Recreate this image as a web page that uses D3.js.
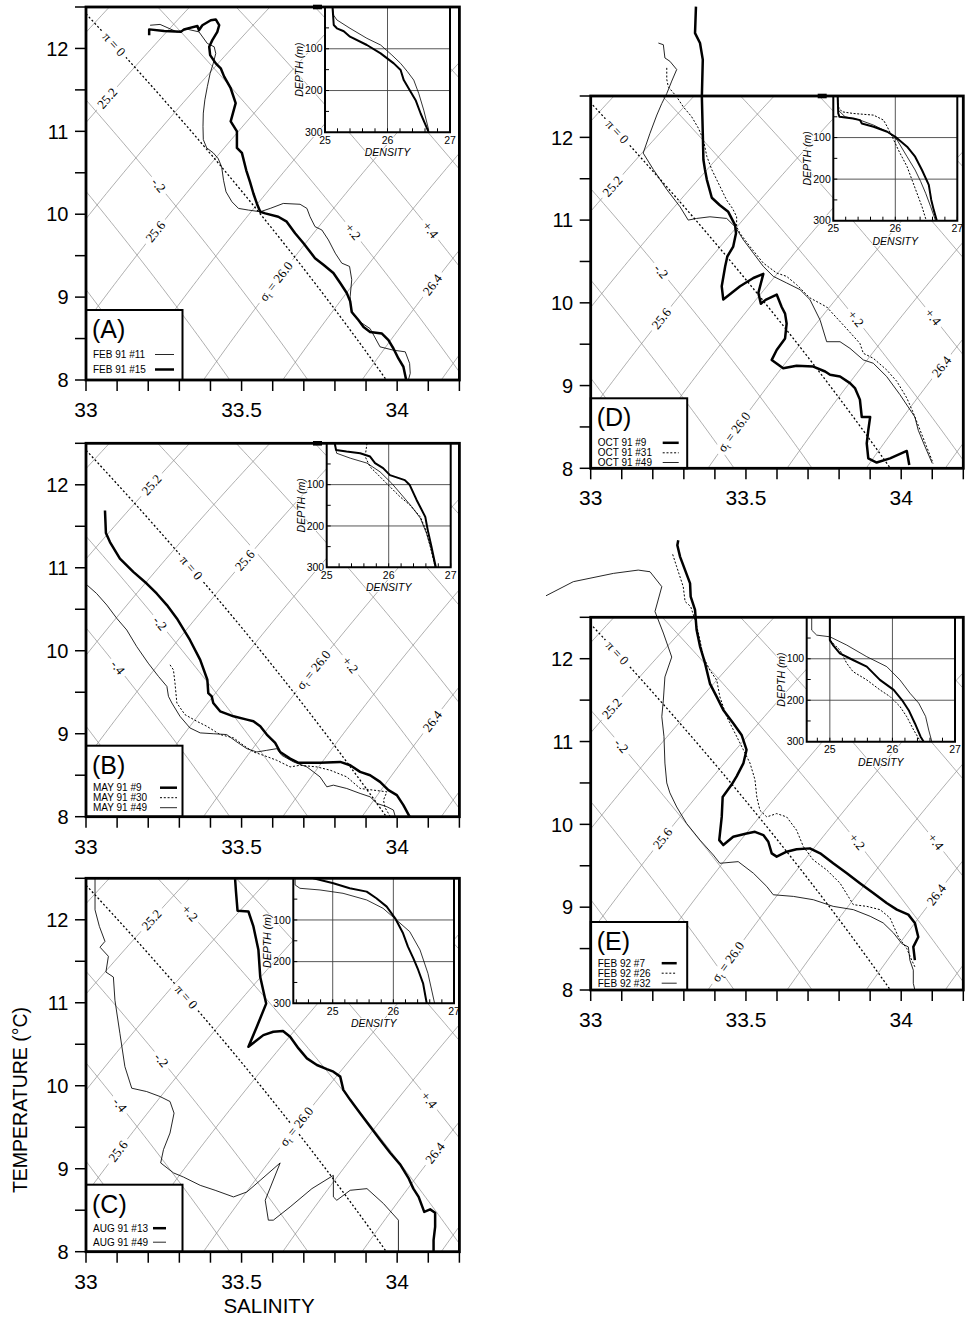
<!DOCTYPE html>
<html><head><meta charset="utf-8">
<script src="https://cdn.jsdelivr.net/npm/d3@7/dist/d3.min.js"></script>
<style>
body{margin:0;background:#fff}
svg{display:block}
text{font-family:"Liberation Sans",Arial,Helvetica,sans-serif}
</style></head><body>
<svg id="chart" width="968" height="1320"></svg>
<script>
// ---------------- DATA ----------------
const salinityDomain = [33, 34.2];
const temperatureDomain = [8, 12.5];
const salinityTickLabels = [33, 33.5, 34];
const temperatureTickLabels = [8, 9, 10, 11, 12];
const depthDomain = [0, 300];
const densityTickLabels = [25, 26, 27];
const depthTickLabels = [100, 200, 300];
const sigmaLevels = [24.8, 25.0, 25.2, 25.4, 25.6, 25.8, 26.0, 26.2, 26.4, 26.6, 26.8];
const spiceLevels = [-1.0, -0.8, -0.6, -0.4, -0.2, 0, 0.2, 0.4, 0.6, 0.8, 1.0];

// T-S profiles [salinity, temperature]
const feb91_11_ts = [[33.206,12.28],[33.238,12.29],[33.292,12.20],[33.328,12.23],[33.363,12.20],[33.390,12.06],[33.412,12.02],[33.417,11.94],[33.409,11.82],[33.399,11.70],[33.390,11.54],[33.382,11.38],[33.377,11.22],[33.376,11.06],[33.377,10.90],[33.388,10.80],[33.409,10.74],[33.425,10.67],[33.436,10.57],[33.442,10.41],[33.450,10.27],[33.469,10.15],[33.490,10.07],[33.522,10.05],[33.560,10.03],[33.592,10.07],[33.634,10.13],[33.688,10.12],[33.710,10.07],[33.720,9.97],[33.736,9.85],[33.758,9.81],[33.779,9.69],[33.801,9.53],[33.822,9.41],[33.847,9.37],[33.854,9.21],[33.849,9.01],[33.851,8.87],[33.860,8.78],[33.881,8.70],[33.913,8.62],[33.945,8.40],[33.988,8.36],[34.026,8.34],[34.040,8.20],[34.042,8.08],[34.036,8.00]];
const feb91_15_ts = [[33.203,12.16],[33.203,12.23],[33.251,12.21],[33.305,12.20],[33.315,12.23],[33.358,12.27],[33.363,12.22],[33.374,12.28],[33.401,12.34],[33.417,12.35],[33.428,12.28],[33.422,12.20],[33.406,12.10],[33.396,12.02],[33.399,11.92],[33.417,11.82],[33.433,11.76],[33.444,11.66],[33.465,11.52],[33.481,11.34],[33.465,11.12],[33.485,11.00],[33.485,10.80],[33.501,10.74],[33.515,10.53],[33.527,10.39],[33.538,10.25],[33.549,10.13],[33.560,10.03],[33.576,10.01],[33.618,9.97],[33.645,9.91],[33.672,9.77],[33.699,9.65],[33.736,9.47],[33.763,9.39],[33.795,9.29],[33.817,9.17],[33.838,9.05],[33.849,8.95],[33.854,8.82],[33.876,8.72],[33.892,8.64],[33.913,8.58],[33.951,8.56],[33.972,8.48],[33.988,8.38],[34.004,8.26],[34.020,8.16],[34.029,8.00]];
const may91_9_ts = [[33.061,11.69],[33.064,11.42],[33.077,11.31],[33.109,11.11],[33.152,10.95],[33.195,10.81],[33.227,10.69],[33.260,10.55],[33.292,10.39],[33.334,10.13],[33.367,9.89],[33.390,9.65],[33.393,9.49],[33.404,9.45],[33.409,9.37],[33.431,9.27],[33.474,9.21],[33.517,9.17],[33.538,9.15],[33.560,9.09],[33.581,8.99],[33.608,8.89],[33.624,8.78],[33.656,8.70],[33.683,8.65],[33.752,8.65],[33.817,8.66],[33.849,8.62],[33.881,8.54],[33.913,8.50],[33.945,8.42],[33.972,8.32],[33.999,8.26],[34.020,8.14],[34.040,8.00]];
const may91_30_ts = [[33.270,9.83],[33.281,9.77],[33.286,9.61],[33.292,9.37],[33.318,9.23],[33.356,9.15],[33.388,9.09],[33.431,8.99],[33.474,8.95],[33.506,8.86],[33.538,8.78],[33.570,8.74],[33.613,8.68],[33.656,8.60],[33.688,8.62],[33.742,8.60],[33.785,8.56],[33.838,8.48],[33.881,8.34],[33.924,8.32],[33.967,8.30],[33.956,8.20],[33.961,8.11],[33.978,8.00]];
const may91_49_ts = [[33.004,10.79],[33.034,10.69],[33.067,10.55],[33.099,10.39],[33.131,10.25],[33.163,10.05],[33.200,9.85],[33.233,9.69],[33.260,9.57],[33.265,9.45],[33.276,9.37],[33.302,9.21],[33.334,9.07],[33.367,9.01],[33.409,9.00],[33.452,8.99],[33.485,8.90],[33.517,8.82],[33.549,8.78],[33.581,8.80],[33.613,8.82],[33.629,8.74],[33.667,8.66],[33.710,8.60],[33.752,8.48],[33.774,8.36],[33.795,8.38],[33.838,8.34],[33.881,8.28],[33.913,8.24],[33.935,8.16],[33.967,8.12],[33.988,8.08],[33.994,8.00]];
const aug91_13_ts = [[33.479,12.50],[33.482,12.34],[33.487,12.11],[33.522,12.10],[33.538,11.92],[33.554,11.64],[33.560,11.31],[33.579,10.99],[33.549,10.71],[33.522,10.47],[33.570,10.61],[33.602,10.65],[33.633,10.66],[33.656,10.59],[33.683,10.45],[33.710,10.33],[33.742,10.25],[33.774,10.20],[33.795,10.17],[33.817,10.11],[33.827,9.95],[33.849,9.83],[33.881,9.67],[33.913,9.51],[33.945,9.35],[33.978,9.19],[34.010,9.05],[34.036,8.89],[34.052,8.76],[34.069,8.66],[34.087,8.48],[34.106,8.51],[34.122,8.47],[34.122,8.30],[34.117,8.14],[34.117,8.00]];
const aug91_49_ts = [[33.029,12.50],[33.029,12.12],[33.043,11.92],[33.061,11.74],[33.045,11.67],[33.072,11.56],[33.064,11.37],[33.088,11.31],[33.093,11.03],[33.109,10.63],[33.125,10.23],[33.147,9.97],[33.195,9.93],[33.238,9.87],[33.270,9.81],[33.283,9.67],[33.270,9.43],[33.249,9.23],[33.240,9.07],[33.281,8.95],[33.313,8.90],[33.367,8.80],[33.415,8.74],[33.474,8.66],[33.517,8.72],[33.560,8.86],[33.624,9.07],[33.576,8.62],[33.586,8.38],[33.602,8.38],[33.656,8.54],[33.726,8.76],[33.795,8.92],[33.795,8.66],[33.806,8.62],[33.849,8.74],[33.903,8.76],[33.956,8.58],[34.004,8.38],[34.004,8.00]];
const oct91_9_ts = [[33.339,13.58],[33.336,13.26],[33.352,13.14],[33.361,12.94],[33.358,12.49],[33.361,12.05],[33.363,11.73],[33.368,11.61],[33.374,11.49],[33.390,11.27],[33.416,11.18],[33.443,11.10],[33.465,10.94],[33.468,10.84],[33.459,10.68],[33.440,10.56],[33.433,10.44],[33.422,10.20],[33.427,10.04],[33.481,10.20],[33.524,10.30],[33.556,10.35],[33.540,10.12],[33.548,9.99],[33.565,10.04],[33.599,10.10],[33.615,9.95],[33.626,9.87],[33.631,9.75],[33.626,9.57],[33.599,9.43],[33.583,9.31],[33.620,9.21],[33.663,9.24],[33.717,9.23],[33.755,9.17],[33.771,9.13],[33.803,9.11],[33.835,9.03],[33.851,8.97],[33.867,8.83],[33.873,8.62],[33.900,8.62],[33.894,8.46],[33.889,8.30],[33.894,8.12],[33.921,8.07],[33.964,8.12],[34.018,8.21],[34.026,8.04]];
const oct91_31_ts = [[33.245,12.84],[33.245,12.70],[33.250,12.61],[33.277,12.49],[33.298,12.37],[33.325,12.25],[33.347,12.11],[33.363,11.97],[33.374,11.77],[33.390,11.61],[33.416,11.41],[33.438,11.24],[33.457,11.14],[33.470,11.04],[33.470,10.92],[33.481,10.84],[33.513,10.68],[33.556,10.48],[33.599,10.36],[33.631,10.32],[33.663,10.22],[33.706,10.06],[33.760,9.95],[33.814,9.73],[33.867,9.51],[33.878,9.39],[33.910,9.33],[33.953,9.19],[33.986,9.05],[34.018,8.85],[34.039,8.67],[34.061,8.46],[34.082,8.26],[34.103,8.06]];
const oct91_49_ts = [[33.218,13.14],[33.234,13.12],[33.239,12.96],[33.255,12.92],[33.277,12.82],[33.261,12.68],[33.245,12.53],[33.229,12.41],[33.213,12.27],[33.191,12.05],[33.169,11.81],[33.202,11.61],[33.245,11.37],[33.288,11.16],[33.314,11.00],[33.341,11.02],[33.384,11.04],[33.438,11.02],[33.465,10.92],[33.492,10.76],[33.524,10.60],[33.556,10.44],[33.588,10.32],[33.631,10.24],[33.674,10.16],[33.706,10.04],[33.739,9.79],[33.760,9.53],[33.803,9.53],[33.835,9.45],[33.878,9.31],[33.910,9.27],[33.953,9.11],[33.996,8.89],[34.044,8.62],[34.055,8.46],[34.077,8.26],[34.100,8.06]];
const feb92_7_ts = [[33.282,13.43],[33.279,13.37],[33.288,13.23],[33.304,13.07],[33.320,12.91],[33.322,12.75],[33.336,12.59],[33.341,12.35],[33.352,12.15],[33.368,11.95],[33.384,11.70],[33.406,11.54],[33.427,11.38],[33.459,11.22],[33.486,11.08],[33.502,10.90],[33.492,10.74],[33.470,10.58],[33.454,10.48],[33.425,10.33],[33.422,10.09],[33.414,9.81],[33.427,9.75],[33.459,9.85],[33.502,9.89],[33.529,9.91],[33.556,9.87],[33.572,9.79],[33.583,9.65],[33.599,9.61],[33.631,9.67],[33.663,9.70],[33.706,9.71],[33.739,9.65],[33.781,9.53],[33.825,9.41],[33.867,9.29],[33.910,9.17],[33.953,9.05],[33.986,8.97],[34.023,8.91],[34.044,8.81],[34.055,8.64],[34.039,8.52],[34.044,8.36]];
const feb92_26_ts = [[33.264,13.26],[33.277,13.11],[33.298,12.87],[33.304,12.69],[33.322,12.63],[33.336,12.47],[33.347,12.31],[33.363,12.02],[33.384,11.86],[33.406,11.74],[33.416,11.54],[33.438,11.30],[33.481,10.98],[33.513,10.74],[33.529,10.54],[33.535,10.33],[33.545,10.17],[33.567,10.09],[33.599,10.13],[33.631,10.09],[33.663,9.93],[33.685,9.73],[33.717,9.57],[33.760,9.45],[33.803,9.29],[33.846,9.03],[33.889,9.01],[33.932,8.97],[33.964,8.87],[33.991,8.64],[34.018,8.50],[34.034,8.36],[34.044,8.28]];
const feb92_32_ts = [[32.856,12.76],[32.944,12.93],[33.073,13.03],[33.153,13.07],[33.191,13.05],[33.229,12.87],[33.207,12.57],[33.234,12.31],[33.261,12.02],[33.239,11.78],[33.234,11.50],[33.229,11.30],[33.236,11.06],[33.239,10.74],[33.245,10.50],[33.255,10.38],[33.277,10.21],[33.309,10.01],[33.352,9.81],[33.395,9.63],[33.416,9.53],[33.475,9.55],[33.524,9.41],[33.567,9.25],[33.588,9.15],[33.653,9.13],[33.717,9.09],[33.781,9.01],[33.846,8.97],[33.900,8.89],[33.942,8.81],[33.975,8.69],[34.002,8.56],[34.023,8.52],[34.028,8.36],[34.039,8.24],[34.039,8.08],[34.044,8.00]];

// density-depth profiles [density, depth]
const feb91_11_rho = [[25.12,0],[25.14,20],[25.19,31],[25.40,51],[25.67,75],[25.89,91],[26.07,115],[26.21,135],[26.32,155],[26.42,175],[26.50,207],[26.58,247],[26.66,295]];
const feb91_15_rho = [[25.12,0],[25.14,43],[25.19,51],[25.30,58],[25.40,71],[25.67,91],[25.89,111],[26.10,135],[26.21,151],[26.26,175],[26.37,203],[26.45,223],[26.53,255],[26.61,283],[26.66,300]];
const may91_9_rho = [[25.13,0],[25.15,16],[25.32,20],[25.54,24],[25.70,32],[25.78,48],[25.91,60],[26.02,77],[26.26,89],[26.34,101],[26.45,137],[26.59,178],[26.63,210],[26.69,250],[26.76,300]];
const may91_30_rho = [[25.65,0],[25.62,32],[25.70,57],[25.86,81],[26.02,105],[26.18,129],[26.34,149],[26.51,178],[26.60,210],[26.67,250],[26.75,300]];
const may91_49_rho = [[25.13,0],[25.15,16],[25.16,24],[25.38,36],[25.65,48],[25.86,69],[26.05,97],[26.21,125],[26.37,153],[26.51,181],[26.61,218],[26.69,258],[26.75,300]];
const aug91_13_rho = [[24.68,0],[25.01,12],[25.28,24],[25.56,32],[25.72,48],[25.89,68],[26.03,96],[26.16,132],[26.24,164],[26.33,192],[26.41,220],[26.49,252],[26.55,300]];
const aug91_49_rho = [[24.38,0],[24.38,16],[24.46,24],[24.79,28],[25.17,36],[25.56,52],[25.83,72],[26.05,100],[26.27,128],[26.44,172],[26.57,228],[26.68,300]];
const oct91_9_rho = [[25.07,0],[25.08,42],[25.10,50],[25.32,54],[25.43,58],[25.46,66],[25.65,74],[25.87,86],[26.00,98],[26.19,122],[26.32,146],[26.43,178],[26.54,214],[26.58,250],[26.62,274],[26.67,300]];
const oct91_31_rho = [[25.07,0],[25.08,26],[25.14,38],[25.32,42],[25.65,46],[25.81,58],[25.87,74],[25.95,98],[26.05,130],[26.19,170],[26.27,202],[26.35,234],[26.43,266],[26.50,300]];
const oct91_49_rho = [[25.07,0],[25.08,34],[25.19,50],[25.43,58],[25.65,70],[25.87,86],[26.03,106],[26.19,146],[26.32,178],[26.41,206],[26.49,234],[26.57,266],[26.65,300]];
const feb92_7_rho = [[25.00,0],[25.00,55],[25.05,67],[25.16,87],[25.37,103],[25.59,119],[25.80,151],[26.02,175],[26.15,199],[26.26,224],[26.36,256],[26.45,288],[26.50,300]];
const feb92_26_rho = [[25.00,40],[25.00,55],[25.16,79],[25.27,111],[25.37,131],[25.59,151],[25.80,175],[25.96,191],[26.12,215],[26.23,240],[26.34,272],[26.45,300]];
const feb92_32_rho = [[24.71,0],[24.71,31],[24.79,43],[25.00,47],[25.27,67],[25.59,95],[25.91,119],[26.12,151],[26.28,183],[26.42,207],[26.53,239],[26.58,272],[26.63,300]];

// isoline labels: [kind, value, temperature where the label sits]
const labelsA = [['pi',0,12.05],['sigma',25.2,11.40],['pi',-0.2,10.35],['sigma',25.6,9.79],['sigma',26.0,9.19],['pi',0.2,9.79],['pi',0.4,9.81],['sigma',26.4,9.15]];
const labelsB = [['sigma',25.2,12.00],['pi',0,11.00],['sigma',25.6,11.09],['pi',-0.2,10.33],['pi',-0.4,9.80],['sigma',26.0,9.77],['pi',0.2,9.83],['sigma',26.4,9.15]];
const labelsC = [['sigma',25.2,12.00],['pi',0.2,12.08],['pi',0,11.07],['pi',-0.2,10.31],['pi',-0.4,9.77],['sigma',25.6,9.21],['sigma',26.0,9.51],['pi',0.4,9.83],['sigma',26.4,9.19]];
const labelsD = [['pi',0,12.07],['sigma',25.2,11.41],['pi',-0.2,10.38],['sigma',25.6,9.81],['pi',0.2,9.81],['pi',0.4,9.83],['sigma',26.4,9.23],['sigma',26.0,8.44]];
const labelsE = [['pi',0,12.07],['sigma',25.2,11.40],['pi',-0.2,10.95],['sigma',25.6,9.83],['pi',0.2,9.79],['pi',0.4,9.79],['sigma',26.4,9.15],['sigma',26.0,8.34]];

// ---------------- EQUATIONS FOR THE BACKGROUND GRID ----------------
function sigmaT(S, T) {
  const rw = 999.842594 + 6.793952e-2*T - 9.095290e-3*T*T + 1.001685e-4*T**3 - 1.120083e-6*T**4 + 6.536332e-9*T**5;
  const A = 0.824493 - 4.0899e-3*T + 7.6438e-5*T*T - 8.2467e-7*T**3 + 5.3875e-9*T**4;
  const Bc = -5.72466e-3 + 1.0227e-4*T - 1.6546e-6*T*T;
  return rw + A*S + Bc*Math.pow(S,1.5) + 4.8314e-4*S*S - 1000;
}
const SPB = [[0,7.7442e-1,-5.85e-3,-9.84e-4,-2.06e-4],[5.1655e-2,2.034e-3,-2.742e-4,-8.5e-6,1.36e-5],[6.64783e-3,-2.4681e-4,-1.428e-5,3.337e-5,7.894e-6],[-5.4023e-5,7.326e-6,7.0036e-6,-3.0412e-6,-1.0853e-6],[3.949e-7,-3.029e-8,-3.8209e-7,1.0012e-7,4.7133e-8],[-6.36e-10,-1.309e-9,6.048e-9,-1.1409e-9,-6.676e-10]];
function spice(S, T) {
  const s = S - 35; let p = 0;
  for (let i = 0; i < 6; i++) for (let j = 0; j < 5; j++) p += SPB[i][j]*Math.pow(T,i)*Math.pow(s,j);
  return p;
}
function solveS(f, level, T) {
  let lo = 30, hi = 37;
  for (let k = 0; k < 50; k++) { const m = (lo+hi)/2; if (f(m,T) < level) lo = m; else hi = m; }
  return (lo+hi)/2;
}

// ---------------- LAYOUT ----------------
const layout = {
  A:{x:86, y:7, w:373.4, h:373, inset:{dx:239, w:125, h:125.3, dom:[25,27]}, marker:true, legH:70, samp:[69,88], rows:[22,7]},
  B:{x:86, y:443.3, w:373.4, h:373.4, inset:{dx:240.7, w:124, h:124, dom:[25,27]}, marker:true, legH:71, samp:[74,91], rows:[25.5,15.5,5.5]},
  C:{x:86, y:878.3, w:373.4, h:373.4, inset:{dx:207.3, w:160.7, h:125, dom:[24.35,27]}, marker:false, legH:67, samp:[67,80], rows:[20,6]},
  D:{x:590.7, y:96, w:372.6, h:372.3, inset:{dx:242.6, w:124, h:124.7, dom:[25,27]}, marker:true, legH:70, samp:[72,88], rows:[22,12,2.3]},
  E:{x:590.7, y:617.3, w:372.6, h:372.7, inset:{dx:216, w:148.3, h:124.4, dom:[24.63,27]}, marker:false, legH:68, samp:[71,86], rows:[23.3,13.3,3.3]}
};

const panels = [
  {key:'A', title:'(A)', labels:labelsA, series:[
    {name:'FEB 91 #11', style:'thin', ts:feb91_11_ts, rho:feb91_11_rho},
    {name:'FEB 91 #15', style:'thick', ts:feb91_15_ts, rho:feb91_15_rho}]},
  {key:'B', title:'(B)', labels:labelsB, series:[
    {name:'MAY 91 #9', style:'thick', ts:may91_9_ts, rho:may91_9_rho},
    {name:'MAY 91 #30', style:'dotted', ts:may91_30_ts, rho:may91_30_rho},
    {name:'MAY 91 #49', style:'thin', ts:may91_49_ts, rho:may91_49_rho}]},
  {key:'C', title:'(C)', labels:labelsC, series:[
    {name:'AUG 91 #13', style:'thick', ts:aug91_13_ts, rho:aug91_13_rho},
    {name:'AUG 91 #49', style:'thin', ts:aug91_49_ts, rho:aug91_49_rho}]},
  {key:'D', title:'(D)', labels:labelsD, series:[
    {name:'OCT 91 #9', style:'thick', ts:oct91_9_ts, rho:oct91_9_rho},
    {name:'OCT 91 #31', style:'dotted', ts:oct91_31_ts, rho:oct91_31_rho},
    {name:'OCT 91 #49', style:'thin', ts:oct91_49_ts, rho:oct91_49_rho}]},
  {key:'E', title:'(E)', labels:labelsE, series:[
    {name:'FEB 92 #7', style:'thick', ts:feb92_7_ts, rho:feb92_7_rho},
    {name:'FEB 92 #26', style:'dotted', ts:feb92_26_ts, rho:feb92_26_rho},
    {name:'FEB 92 #32', style:'thin', ts:feb92_32_ts, rho:feb92_32_rho}]}
];

const styles = {
  thick:{w:2.5, dash:null}, thin:{w:0.85, dash:null}, dotted:{w:1.0, dash:'2,1.8'}
};
const insetStyles = {
  thick:{w:2.0, dash:null}, thin:{w:0.8, dash:null}, dotted:{w:1.0, dash:'2,1.6'}
};

const svg = d3.select('#chart');
const defs = svg.append('defs');

function styleLine(sel, st) {
  sel.attr('fill','none').attr('stroke','#000').attr('stroke-width',st.w).attr('stroke-linejoin','round');
  if (st.dash) sel.attr('stroke-dasharray', st.dash);
  return sel;
}

function drawPanel(p) {
  const L = layout[p.key];
  const g = svg.append('g').attr('class','panel-'+p.key);
  const x = d3.scaleLinear().domain(salinityDomain).range([L.x, L.x+L.w]);
  const y = d3.scaleLinear().domain(temperatureDomain).range([L.y+L.h, L.y]);
  const cid = 'clip'+p.key;
  defs.append('clipPath').attr('id',cid).append('rect')
    .attr('x',L.x).attr('y',L.y).attr('width',L.w).attr('height',L.h);

  // background isolines (sigma-t and spiciness)
  const grid = g.append('g').attr('clip-path',`url(#${cid})`);
  const Ts = d3.range(7.6, 12.95, 0.05);
  const line = d3.line().x(d=>x(d[0])).y(d=>y(d[1]));
  sigmaLevels.forEach(lv=>{
    const pts = Ts.map(T=>[solveS(sigmaT,lv,T),T]);
    grid.append('path').attr('d',line(pts)).attr('fill','none').attr('stroke','#8c8c8c').attr('stroke-width',0.7);
  });
  spiceLevels.forEach(lv=>{
    const pts = Ts.map(T=>[solveS(spice,lv,T),T]);
    const path = grid.append('path').attr('d',line(pts)).attr('fill','none');
    if (lv === 0) path.attr('stroke','#000').attr('stroke-width',1.3).attr('stroke-dasharray','2,2.2');
    else path.attr('stroke','#8c8c8c').attr('stroke-width',0.7);
  });
  p.labels.forEach(([kind,val,T])=>{
    const f = kind==='sigma' ? sigmaT : spice;
    const S = solveS(f,val,T);
    const S1 = solveS(f,val,T-0.05), S2 = solveS(f,val,T+0.05);
    let dx = x(S2)-x(S1), dy = y(T+0.05)-y(T-0.05);
    if (dx < 0) { dx = -dx; dy = -dy; }
    const ang = Math.atan2(dy,dx)*180/Math.PI;
    const lg = grid.append('g').attr('transform',`translate(${x(S)},${y(T)}) rotate(${ang})`);
    const rect = lg.append('rect').attr('fill','#fff');
    const t = lg.append('text').attr('text-anchor','middle').attr('dy','0.34em')
      .style('font-family','"Liberation Serif","Times New Roman",serif').style('font-size','13px');
    if (kind==='sigma' && val===26.0) {
      t.append('tspan').text('σ');
      t.append('tspan').attr('font-size','8.5px').attr('dy','2.5').text('t');
      t.append('tspan').attr('dy','-2.5').text(' = 26.0');
    } else if (kind==='pi' && val===0) {
      t.text('π = 0');
    } else if (kind==='sigma') {
      t.text(val.toFixed(1));
    } else {
      t.text((val>0?'+':'-') + '.' + Math.round(Math.abs(val)*10));
    }
    const len = t.node().getComputedTextLength();
    rect.attr('x',-len/2-4).attr('y',-6).attr('width',len+8).attr('height',12);
  });

  // T-S curves (not clipped: profiles extend above the frame)
  const curves = g.append('g');
  p.series.forEach(s=>{
    styleLine(curves.append('path').attr('d',line(s.ts)), styles[s.style]);
  });

  // inset density profile
  const I = L.inset;
  const x0 = L.x + I.dx;
  const xi = d3.scaleLinear().domain(I.dom).range([x0, x0+I.w]);
  const yi = d3.scaleLinear().domain(depthDomain).range([L.y, L.y+I.h]);
  const ig = g.append('g');
  ig.append('rect').attr('x',x0).attr('y',L.y).attr('width',I.w).attr('height',I.h).attr('fill','#fff');
  [25,26].filter(v=>v>I.dom[0]+0.01 && v<I.dom[1]-0.01).forEach(v=>{
    ig.append('line').attr('x1',xi(v)).attr('x2',xi(v)).attr('y1',L.y).attr('y2',L.y+I.h).attr('stroke','#444').attr('stroke-width',0.9);
  });
  [100,200].forEach(v=>{
    ig.append('line').attr('x1',x0).attr('x2',x0+I.w).attr('y1',yi(v)).attr('y2',yi(v)).attr('stroke','#444').attr('stroke-width',0.9);
  });
  const minorRho = d3.range(Math.ceil(I.dom[0]*5)/5, I.dom[1]+0.001, 0.2);
  minorRho.forEach(v=>{
    ig.append('line').attr('x1',xi(v)).attr('x2',xi(v)).attr('y1',L.y+I.h).attr('y2',L.y+I.h-4).attr('stroke','#000').attr('stroke-width',1);
  });
  [50,100,150,200,250].forEach(v=>{
    ig.append('line').attr('x1',x0).attr('x2',x0+4).attr('y1',yi(v)).attr('y2',yi(v)).attr('stroke','#000').attr('stroke-width',1);
  });
  const iclip = 'iclip'+p.key;
  defs.append('clipPath').attr('id',iclip).append('rect').attr('x',x0).attr('y',L.y).attr('width',I.w).attr('height',I.h);
  const iline = d3.line().x(d=>xi(d[0])).y(d=>yi(d[1]));
  const ic = ig.append('g').attr('clip-path',`url(#${iclip})`);
  p.series.forEach(s=>{
    styleLine(ic.append('path').attr('d',iline(s.rho)), insetStyles[s.style]);
  });
  ig.append('path').attr('d',`M${x0},${L.y}V${L.y+I.h}H${x0+I.w}V${L.y}`)
    .attr('fill','none').attr('stroke','#000').attr('stroke-width',2);
  depthTickLabels.forEach(v=>{
    ig.append('text').attr('x',x0-2.5).attr('y',yi(v)).attr('dy','0.35em').attr('text-anchor','end')
      .style('font-size','10.5px').style('paint-order','stroke').attr('stroke','#fff').attr('stroke-width',2).text(v);
  });
  densityTickLabels.forEach(v=>{
    ig.append('text').attr('x',xi(v)).attr('y',L.y+I.h+11.5).attr('text-anchor','middle')
      .style('font-size','10.5px').style('paint-order','stroke').attr('stroke','#fff').attr('stroke-width',2).text(v);
  });
  ig.append('text').attr('x',x0+I.w/2).attr('y',L.y+I.h+24).attr('text-anchor','middle')
    .style('font-size','10.5px').style('font-style','italic').style('paint-order','stroke').attr('stroke','#fff').attr('stroke-width',2).text('DENSITY');
  ig.append('text').attr('transform',`translate(${x0-22},${L.y+I.h/2}) rotate(-90)`).attr('text-anchor','middle')
    .style('font-size','10.5px').style('font-style','italic').style('paint-order','stroke').attr('stroke','#fff').attr('stroke-width',2).text('DEPTH (m)');

  // legend
  const lx = L.x, ly = L.y + L.h - L.legH, lb = L.y + L.h;
  const lgd = g.append('g');
  lgd.append('rect').attr('x',lx).attr('y',ly).attr('width',96.5).attr('height',L.legH)
    .attr('fill','#fff').attr('stroke','#000').attr('stroke-width',2);
  lgd.append('text').attr('x',lx+6).attr('y',ly+28).style('font-size','25px').text(p.title);
  p.series.forEach((s,i)=>{
    const by = lb - L.rows[i];
    lgd.append('text').attr('x',lx+7).attr('y',by).style('font-size','10px').text(s.name);
    styleLine(lgd.append('line').attr('x1',lx+L.samp[0]).attr('x2',lx+L.samp[1]).attr('y1',by-3.5).attr('y2',by-3.5), styles[s.style]);
  });

  // axes
  const ax = g.append('g');
  const tTicks = d3.range(16,26).map(k=>k/2);
  tTicks.forEach(v=>{
    ax.append('line').attr('x1',L.x-11).attr('x2',L.x).attr('y1',y(v)).attr('y2',y(v)).attr('stroke','#000').attr('stroke-width',1.5);
  });
  temperatureTickLabels.forEach(v=>{
    ax.append('text').attr('x',L.x-17.5).attr('y',y(v)).attr('dy','0.36em').attr('text-anchor','end').style('font-size','20px').text(v);
  });
  const sTicks = d3.range(330,343).map(k=>k/10);
  sTicks.forEach(v=>{
    ax.append('line').attr('x1',x(v)).attr('x2',x(v)).attr('y1',L.y+L.h).attr('y2',L.y+L.h+11).attr('stroke','#000').attr('stroke-width',1.5);
  });
  salinityTickLabels.forEach(v=>{
    ax.append('text').attr('x',x(v)).attr('y',L.y+L.h+37).attr('text-anchor','middle').style('font-size','21px').text(v);
  });
  ax.append('rect').attr('x',L.x).attr('y',L.y).attr('width',L.w).attr('height',L.h)
    .attr('fill','none').attr('stroke','#000').attr('stroke-width',2.8);
  if (L.marker) {
    ax.append('rect').attr('x',L.x+227).attr('y',L.y-2.3).attr('width',9).attr('height',4.6).attr('fill','#000');
  }
}

panels.forEach(drawPanel);

svg.append('text').attr('transform','translate(26.5,1100) rotate(-90)').attr('text-anchor','middle')
  .style('font-size','19.5px').text('TEMPERATURE (°C)');
svg.append('text').attr('x',269).attr('y',1312.5).attr('text-anchor','middle')
  .style('font-size','20.5px').text('SALINITY');
</script></body></html>
